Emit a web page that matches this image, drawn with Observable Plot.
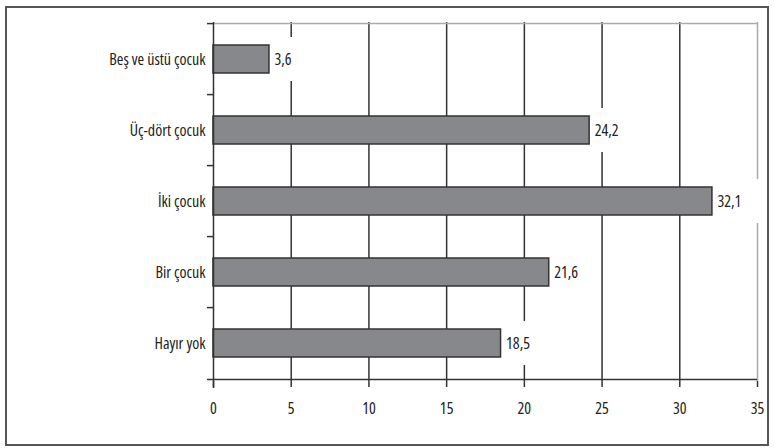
<!DOCTYPE html>
<html>
<head>
<meta charset="utf-8">
<script src="https://cdn.jsdelivr.net/npm/d3@7"></script>
<script src="https://cdn.jsdelivr.net/npm/@observablehq/plot@0.6"></script>
<style>
  body { margin: 0; background: #fff; }
  #wrap { position: relative; width: 774px; height: 448px; }
  #border { position: absolute; left: 5px; top: 6px; width: 764px; height: 440px; border: 2px solid #555; box-sizing: border-box; pointer-events: none; }
  svg text { font-stretch: condensed; }
</style>
</head>
<body>
<div id="wrap"><div id="border"></div></div>
<script>
const categories = ["Beş ve üstü çocuk", "Üç-dört çocuk", "İki çocuk", "Bir çocuk", "Hayır yok"];
const values = [3.6, 24.2, 32.1, 21.6, 18.5];
const xTicks = [0, 5, 10, 15, 20, 25, 30, 35];
const gridTicks = [5, 10, 15, 20, 25, 30];

const data = categories.map((c, i) => ({cat: c, value: values[i]}));

const W = 774, H = 448, mt = 22, mb = 67, ml = 213, mr = 17;
const step = (H - mt - mb) / categories.length;
const fmt = v => String(v).replace(".", ",");
const FS = 16;

const chart = Plot.plot({
  width: W,
  height: H,
  marginTop: mt,
  marginBottom: mb,
  marginLeft: ml,
  marginRight: mr,
  style: "font-family: 'Open Sans', sans-serif; font-stretch: condensed; font-size: 16px; color: #222; background: transparent;",
  x: {domain: [0, 35]},
  y: {domain: categories, paddingInner: 0.6, paddingOuter: 0.3},
  marks: [
    Plot.ruleX(gridTicks, {stroke: "#333", strokeWidth: 1.5}),
    Plot.ruleX([35], {stroke: "#aaa", strokeWidth: 1.5}),
    Plot.ruleY([categories[0]], {x1: 0, x2: 35, dy: -step / 2, stroke: "#aaa", strokeWidth: 1.5}),
    Plot.barX(data, {x: "value", y: "cat", fill: "#87888b", stroke: "#333", strokeWidth: 1.5}),
    Plot.barX(data, {x1: d => d.value + 0.1, x2: d => d.value + 3.3, y: "cat", fill: "white", insetTop: -8, insetBottom: -8}),
    Plot.text(data, {x: "value", y: "cat", text: d => fmt(d.value), textAnchor: "start", dx: 5, fill: "#222", fontSize: FS}),
    Plot.ruleX([0], {stroke: "#333", strokeWidth: 1.5, insetBottom: -7}),
    Plot.ruleY([categories[categories.length - 1]], {x1: 0, x2: 35, dy: step / 2, stroke: "#333", strokeWidth: 1.5, insetLeft: -6}),
    Plot.ruleY(categories, {x1: 0, x2: 0, dy: -step / 2, stroke: "#333", strokeWidth: 1.5, insetLeft: -6}),
    Plot.axisY({tickSize: 0, tickPadding: 8, label: null, fontSize: FS}),
    Plot.axisX({ticks: xTicks, tickSize: 6, tickPadding: 15, label: null, stroke: "#333", strokeWidth: 1.5, fontSize: FS})
  ]
});
document.getElementById("wrap").prepend(chart);
</script>
</body>
</html>
